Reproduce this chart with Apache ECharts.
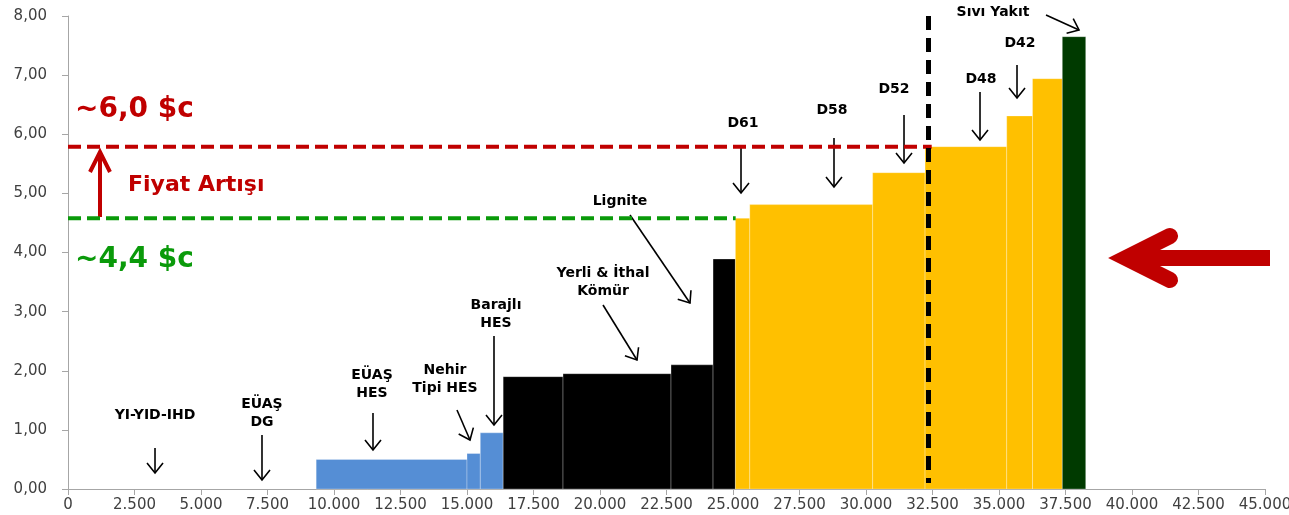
<!DOCTYPE html>
<html>
<head>
<meta charset="utf-8">
<title>Arz Eğrisi</title>
<script src="https://cdn.jsdelivr.net/npm/echarts@6/dist/echarts.min.js"></script>
<style>
  html, body { margin: 0; padding: 0; background: #ffffff; }
  #chart { width: 1289px; height: 515px; }
</style>
</head>
<body>
<div id="chart"></div>
<script>
// Merit-order supply blocks: edges along the capacity axis (MW) and cost of each block
const blockEdges = [9330, 15000, 15500, 16360, 18610, 22670, 24250, 25090, 25630, 30250, 32220, 35290, 36260, 37380, 38260];
const blockCosts = [0.50, 0.60, 0.95, 1.90, 1.95, 2.10, 3.89, 4.58, 4.81, 5.35, 5.79, 6.31, 6.94, 7.65];
const blockFuel  = ['hydro', 'hydro', 'hydro', 'coal', 'coal', 'coal', 'coal', 'gas', 'gas', 'gas', 'gas', 'gas', 'gas', 'oil'];

// Price levels and demand
const oldPrice = 4.58;
const oldPriceEndMW = 25100;
const newPrice = 5.79;
const newPriceEndMW = 32470;
const demandMW = 32350;

// Axis ticks
const xTicks = { min: 0, max: 45000, step: 2500 };
const yTicks = { min: 0, max: 8, step: 1 };

// Annotation texts with their anchor in chart units [MW, cost]
const noteTexts = ['YI-YID-IHD', 'EÜAŞ\nDG', 'EÜAŞ\nHES', 'Nehir\nTipi HES', 'Barajlı\nHES', 'Yerli & İthal\nKömür', 'Lignite', 'D61', 'D58', 'D52', 'D48', 'D42', 'Sıvı Yakıt'];
const noteAnchors = [[3271, 1.252], [7293, 1.285], [11429, 1.776], [14173, 1.852], [16090, 2.960], [20113, 3.493], [20752, 4.871], [25376, 6.190], [28722, 6.410], [31053, 6.765], [34324, 6.934], [35789, 7.543], [34774, 8.068]];
// Pointer arrows for each annotation: [tail, tip] in chart units
const noteArrows = [
  [[3271, 0.693], [3271, 0.271]],
  [[7293, 0.913], [7293, 0.152]],
  [[11466, 1.285], [11466, 0.660]],
  [[14624, 1.336], [15113, 0.829]],
  [[16015, 2.588], [16015, 1.082]],
  [[20113, 3.112], [21391, 2.182]],
  [[21128, 4.634], [23383, 3.146]],
  [[25301, 5.818], [25301, 5.006]],
  [[28797, 5.937], [28797, 5.108]],
  [[31429, 6.326], [31429, 5.514]],
  [[34286, 6.715], [34286, 5.903]],
  [[35677, 7.171], [35677, 6.613]],
  [[36767, 8.017], [38008, 7.763]]
];

const newPriceText = '~6,0 $c';
const oldPriceText = '~4,4 $c';
const riseText = 'Fiyat Artışı';

const fuelColors = { hydro: '#558ED5', coal: '#000000', gas: '#FFC000', oil: '#003A00' };
const RED = '#C00000';
const GREEN = '#0A9A0A';

const blocks = blockCosts.map((c, i) => [blockEdges[i], blockEdges[i + 1], c]);

function thousands(v) {
  return String(v).replace(/\B(?=(\d{3})+(?!\d))/g, '.');
}

const chart = echarts.init(document.getElementById('chart'), null, { renderer: 'canvas' });

chart.setOption({
  animation: false,
  backgroundColor: '#ffffff',
  grid: { left: 68, right: 24, top: 16, bottom: 26, containLabel: false, outerBoundsMode: 'none' },
  xAxis: {
    type: 'value',
    min: xTicks.min, max: xTicks.max, interval: xTicks.step,
    splitLine: { show: false },
    axisLine: { show: true, lineStyle: { color: '#a6a6a6', width: 1 } },
    axisTick: { show: true, length: 6, lineStyle: { color: '#a6a6a6' } },
    axisLabel: {
      formatter: thousands, color: '#404040', fontFamily: 'DejaVu Sans', fontSize: 15, margin: 9,
      showMaxLabel: true, showMinLabel: true, hideOverlap: false
    }
  },
  yAxis: {
    type: 'value',
    min: yTicks.min, max: yTicks.max, interval: yTicks.step,
    splitLine: { show: false },
    axisLine: { show: true, lineStyle: { color: '#a6a6a6', width: 1 } },
    axisTick: { show: true, length: 6, lineStyle: { color: '#a6a6a6' } },
    axisLabel: {
      formatter: v => v.toFixed(2).replace('.', ','), color: '#404040',
      fontFamily: 'DejaVu Sans', fontSize: 15, margin: 21
    }
  },
  series: [
    {
      type: 'custom',
      data: blocks,
      encode: { x: [0, 1], y: 2 },
      z: 2,
      silent: true,
      renderItem: (params, api) => {
        const topLeft = api.coord([api.value(0), api.value(2)]);
        const bottomRight = api.coord([api.value(1), 0]);
        return {
          type: 'rect',
          shape: {
            x: topLeft[0], y: topLeft[1],
            width: bottomRight[0] - topLeft[0],
            height: bottomRight[1] - topLeft[1]
          },
          style: {
            fill: fuelColors[blockFuel[params.dataIndex]],
            stroke: 'rgba(255,255,255,0.28)',
            lineWidth: 1
          }
        };
      }
    },
    {
      type: 'line',
      data: [[0, oldPrice], [oldPriceEndMW, oldPrice]],
      symbol: 'none', silent: true, z: 4,
      lineStyle: { color: GREEN, width: 4, type: [13, 6] }
    },
    {
      type: 'line',
      data: [[0, newPrice], [newPriceEndMW, newPrice]],
      symbol: 'none', silent: true, z: 4,
      lineStyle: { color: RED, width: 4, type: [13, 6] }
    },
    {
      type: 'line',
      data: [[demandMW, 8], [demandMW, 0.1]],
      symbol: 'none', silent: true, z: 5,
      lineStyle: { color: '#000000', width: 5, type: [14, 8] }
    }
  ]
});

// Annotation layer, placed through the axes' own scales
const toPx = p => chart.convertToPixel({ gridIndex: 0 }, p);

function arrow(tail, tip, opt) {
  const a = toPx(tail), b = toPx(tip);
  const dx = b[0] - a[0], dy = b[1] - a[1];
  const len = Math.hypot(dx, dy);
  const ux = dx / len, uy = dy / len;
  const nx = -uy, ny = ux;
  const L = opt.headLen, H = opt.headHalf;
  const arm1 = [b[0] - ux * L + nx * H, b[1] - uy * L + ny * H];
  const arm2 = [b[0] - ux * L - nx * H, b[1] - uy * L - ny * H];
  const shaftEnd = [b[0] - ux * (opt.shaftTrim || 0), b[1] - uy * (opt.shaftTrim || 0)];
  return {
    type: 'group', silent: true, z: 10,
    children: [
      {
        type: 'line',
        shape: { x1: a[0], y1: a[1], x2: shaftEnd[0], y2: shaftEnd[1] },
        style: { stroke: opt.color, lineWidth: opt.width, lineCap: 'butt' }
      },
      {
        type: 'polyline',
        shape: { points: [arm1, b, arm2] },
        style: { stroke: opt.color, lineWidth: opt.headWidth || opt.width, fill: null, lineJoin: 'miter', miterLimit: 10, lineCap: opt.cap || 'butt' }
      }
    ]
  };
}

function label(text, at, opt) {
  const p = toPx(at);
  return {
    type: 'text', x: p[0], y: p[1], silent: true, z: 11,
    style: {
      text: text,
      fill: opt.color,
      fontFamily: 'DejaVu Sans',
      fontWeight: 'bold',
      fontSize: opt.size,
      lineHeight: opt.lineHeight || Math.round(opt.size * 1.3),
      align: opt.align || 'center',
      verticalAlign: 'middle'
    }
  };
}

const graphics = [];
noteTexts.forEach((t, i) => {
  graphics.push(label(t, noteAnchors[i], { color: '#000000', size: 14, lineHeight: 18 }));
});
noteArrows.forEach(([tail, tip]) => {
  graphics.push(arrow(tail, tip, { color: '#000000', width: 1.6, headLen: 10, headHalf: 8 }));
});

graphics.push(label(newPriceText, [263, 6.410], { color: RED, size: 28, align: 'left' }));
graphics.push(label(riseText, [2256, 5.142], { color: RED, size: 22, align: 'left' }));
graphics.push(label(oldPriceText, [263, 3.873], { color: GREEN, size: 28, align: 'left' }));
graphics.push(arrow([1203, 4.60], [1203, 5.70], { color: RED, width: 4, headLen: 20, headHalf: 10, shaftTrim: 2 }));
graphics.push(arrow([45188, 3.907], [39774, 3.907], { color: RED, width: 16, headLen: 44, headHalf: 22, shaftTrim: 8, cap: 'round' }));

chart.setOption({ graphic: graphics });
</script>
</body>
</html>
